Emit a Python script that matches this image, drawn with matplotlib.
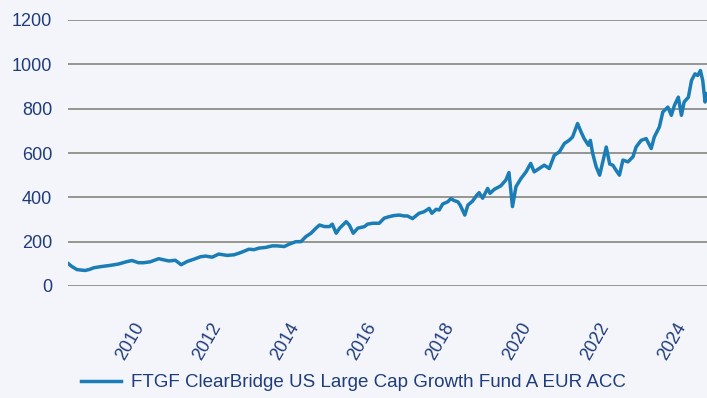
import matplotlib
matplotlib.use("Agg")
import matplotlib.pyplot as plt
from matplotlib.transforms import ScaledTranslation

plt.rcParams["font.family"] = ["Liberation Sans", "DejaVu Sans"]

# Fund value, rebased to 100 at launch of the series (x in decimal years)
years = [
    2008.74, 2008.84, 2008.97, 2009.18, 2009.30, 2009.40, 2009.57, 2009.83,
    2010.04, 2010.26, 2010.39, 2010.56, 2010.69, 2010.86, 2011.08, 2011.21,
    2011.34, 2011.51, 2011.66, 2011.82, 2011.99, 2012.16, 2012.29, 2012.46,
    2012.63, 2012.85, 2013.03, 2013.20, 2013.41, 2013.54, 2013.67, 2013.84,
    2014.01, 2014.14, 2014.32, 2014.45, 2014.62, 2014.75, 2014.88, 2015.01,
    2015.14, 2015.23, 2015.36, 2015.49, 2015.56, 2015.66, 2015.75, 2015.92,
    2016.00, 2016.10, 2016.22, 2016.39, 2016.47, 2016.60, 2016.77, 2016.90,
    2017.03, 2017.16, 2017.29, 2017.42, 2017.50, 2017.63, 2017.80, 2017.93,
    2018.06, 2018.13, 2018.24, 2018.32, 2018.41, 2018.54, 2018.62, 2018.71,
    2018.80, 2018.86, 2018.98, 2019.06, 2019.18, 2019.29, 2019.35, 2019.44,
    2019.57, 2019.63, 2019.74, 2019.91, 2020.04, 2020.12, 2020.21, 2020.30,
    2020.43, 2020.56, 2020.68, 2020.77, 2020.90, 2021.03, 2021.16, 2021.29,
    2021.42, 2021.55, 2021.67, 2021.76, 2021.89, 2021.98, 2022.06, 2022.17,
    2022.22, 2022.28, 2022.37, 2022.46, 2022.54, 2022.63, 2022.72, 2022.80,
    2022.88, 2022.97, 2023.06, 2023.19, 2023.32, 2023.40, 2023.53, 2023.66,
    2023.79, 2023.87, 2024.00, 2024.09, 2024.22, 2024.31, 2024.39, 2024.49,
    2024.57, 2024.64, 2024.75, 2024.83, 2024.92, 2024.99, 2025.06, 2025.12,
    2025.18, 2025.23,
]
values = [
    102, 88, 74, 70, 75, 82, 87, 93,
    99, 110, 115, 105, 105, 109, 123, 118,
    113, 116, 96, 111, 121, 132, 135, 130,
    144, 138, 141, 151, 166, 164, 171, 174,
    181, 181, 178, 189, 200, 200, 223, 238,
    261, 275, 268, 268, 279, 238, 261, 290,
    275, 238, 261, 268, 279, 283, 283, 306,
    313, 318, 320, 316, 316, 304, 328, 335,
    350, 328, 346, 343, 370, 380, 394, 385,
    380, 365, 320, 365, 383, 410, 421, 396,
    440, 418, 436, 452, 478, 512, 358, 448,
    485, 515, 553, 515, 530, 545, 530, 590,
    605, 643, 657, 672, 733, 695, 665, 635,
    657, 598, 538, 500, 560, 627, 550, 545,
    523, 500, 568, 560, 583, 627, 657, 665,
    620, 672, 717, 785, 807, 770, 815, 852,
    770, 830, 852, 927, 957, 950, 972, 927,
    830, 867,
]

series_name = "FTGF ClearBridge US Large Cap Growth Fund A EUR ACC"
year_ticks = [2010, 2012, 2014, 2016, 2018, 2020, 2022, 2024]
value_ticks = [0, 200, 400, 600, 800, 1000, 1200]

bg = "#f4f5fb"
line_color = "#1a7db5"
text_color = "#1f3c7c"
grid_color = "#8e8e84"

fig = plt.figure(figsize=(7.07, 3.98), dpi=100, facecolor=bg)
ax = fig.add_axes([68 / 707, 1 - 286 / 398, 1 - 68 / 707, 266 / 398])
ax.set_facecolor(bg)

ax.plot(years, values, color=line_color, lw=2.5, label=series_name,
        solid_joinstyle="round", zorder=3)

ax.set_xlim(years[0], years[-1])
ax.set_ylim(0, 1200)
ax.set_yticks(value_ticks)
ax.set_xticks(year_ticks)
ax.set_xticklabels([str(y) for y in year_ticks])

ax.grid(axis="y", color=grid_color, lw=1.3, zorder=1)
ax.grid(axis="x", visible=False)
for s in ax.spines.values():
    s.set_visible(False)

ax.tick_params(axis="y", length=0, pad=11.5, labelsize=13, labelcolor=text_color)
ax.tick_params(axis="x", length=0, pad=24, labelsize=13, labelcolor=text_color)
shift = ScaledTranslation(-4 / 100, 0, fig.dpi_scale_trans)
for lab in ax.get_xticklabels():
    lab.set_rotation(60)
    lab.set_ha("left")
    lab.set_va("top")
    lab.set_transform(lab.get_transform() + shift)

leg = fig.legend(loc="center", bbox_to_anchor=(0.5, 0.038), frameon=False,
                 fontsize=13.5, handlelength=2.13, handletextpad=0.53)
for t in leg.get_texts():
    t.set_color(text_color)

fig.savefig("out.png", dpi=100, facecolor=bg)
